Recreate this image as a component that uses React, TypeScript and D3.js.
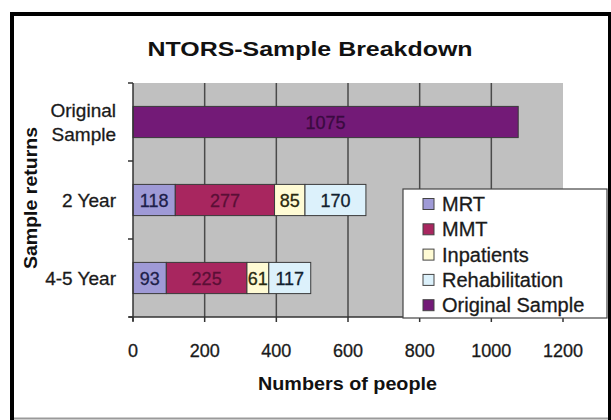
import React from "react";
import * as d3 from "d3";

const categories = ["Original Sample", "2 Year", "4-5 Year"];
const categoryLines = [["Original", "Sample"], ["2 Year"], ["4-5 Year"]];
const seriesNames = ["MRT", "MMT", "Inpatients", "Rehabilitation", "Original Sample"];
const mrtValues = [0, 118, 93];
const mmtValues = [0, 277, 225];
const inpatientValues = [0, 85, 61];
const rehabValues = [0, 170, 117];
const originalValues = [1075, 0, 0];
const xTicks = [0, 200, 400, 600, 800, 1000, 1200];
const seriesColors = ["#9f9ad6", "#a8265f", "#fffbd4", "#dcf1fb", "#731a77"];
const labelColors = ["#1e1f4a", "#5a0f36", "#2a2a10", "#10202e", "#3a0a40"];

const W = 611;
const H = 420;
const plot = { left: 133, right: 563, top: 83, bottom: 317 };

export default function App() {
  const rows = categories.map((c, i) => ({
    cat: c,
    MRT: mrtValues[i],
    MMT: mmtValues[i],
    Inpatients: inpatientValues[i],
    Rehabilitation: rehabValues[i],
    "Original Sample": originalValues[i],
  }));
  const stack = d3.stack<any>().keys(seriesNames);
  const layers = stack(rows);

  const x = d3.scaleLinear().domain([0, 1200]).range([plot.left, plot.right]);
  const y = d3
    .scaleBand()
    .domain(categories)
    .range([plot.top, plot.bottom])
    .paddingInner(0.6)
    .paddingOuter(0.3);
  const step = y.step();
  const font = "Liberation Sans, Arial, sans-serif";
  const textStroke = { stroke: "currentColor", strokeWidth: 0.3 } as any;

  return (
    <svg
      width={W}
      height={H}
      style={{ position: "absolute", left: 0, top: 0, background: "#fff" }}
      fontFamily={font}
    >
      {/* frame */}
      <line x1={12} y1={12} x2={12} y2={420} stroke="#000" strokeWidth={4} />
      <line x1={10} y1={14} x2={611} y2={14} stroke="#000" strokeWidth={4} />
      <line x1={609.5} y1={12} x2={609.5} y2={420} stroke="#000" strokeWidth={3} />
      <line x1={14} y1={418.5} x2={608} y2={418.5} stroke="#9a9a9a" strokeWidth={2} />

      {/* title */}
      <text
        x={310}
        y={56}
        textAnchor="middle"
        fontSize={21}
        fontWeight="bold"
        fill="#111"
        textLength={325}
        lengthAdjust="spacingAndGlyphs"
      >
        NTORS-Sample Breakdown
      </text>

      {/* plot background */}
      <rect
        x={plot.left}
        y={plot.top}
        width={plot.right - plot.left}
        height={plot.bottom - plot.top}
        fill="#c0c0c0"
      />
      {/* gridlines */}
      {xTicks
        .filter((t) => t > 0 && t < 1200)
        .map((t) => (
          <line
            key={t}
            x1={x(t)}
            x2={x(t)}
            y1={plot.top}
            y2={plot.bottom}
            stroke="#4a4a4a"
            strokeWidth={1.5}
          />
        ))}

      {/* bars */}
      {layers.map((layer, si) =>
        layer.map((d, ci) => {
          const v = d[1] - d[0];
          if (!v) return null;
          const x0 = x(d[0]);
          const x1 = x(d[1]);
          const by = y(categories[ci]) as number;
          const bh = y.bandwidth();
          return (
            <g key={`${si}-${ci}`}>
              <rect
                x={x0}
                y={by}
                width={x1 - x0}
                height={bh}
                fill={seriesColors[si]}
                stroke="#3a3a3a"
                strokeWidth={1}
              />
              <text
                x={(x0 + x1) / 2}
                y={by + bh / 2 + 6.5}
                textAnchor="middle"
                fontSize={18}
                fill={labelColors[si]}
                style={{ color: labelColors[si] }}
                {...textStroke}
              >
                {v}
              </text>
            </g>
          );
        })
      )}

      {/* axes */}
      <line x1={plot.left} x2={plot.left} y1={plot.top} y2={plot.bottom + 4} stroke="#333" strokeWidth={1.5} />
      <line x1={plot.left - 4} x2={plot.right} y1={plot.bottom} y2={plot.bottom} stroke="#333" strokeWidth={1.5} />
      {[0, 1, 2, 3].map((i) => (
        <line
          key={i}
          x1={plot.left - 5}
          x2={plot.left}
          y1={plot.top + i * step}
          y2={plot.top + i * step}
          stroke="#333"
          strokeWidth={1.5}
        />
      ))}
      {xTicks.map((t) => (
        <g key={t}>
          <line x1={x(t)} x2={x(t)} y1={plot.bottom} y2={plot.bottom + 5} stroke="#333" strokeWidth={1.5} />
          <text
            x={x(t)}
            y={357}
            textAnchor="middle"
            fontSize={18}
            fill="#1a1a1a"
            style={{ color: "#1a1a1a" }}
            {...textStroke}
          >
            {t}
          </text>
        </g>
      ))}

      {/* category labels */}
      {categories.map((c, i) => {
        const cy = (y(c) as number) + y.bandwidth() / 2;
        const lines = categoryLines[i];
        const lh = 24;
        return lines.map((ln, li) => (
          <text
            key={`${c}-${li}`}
            x={116}
            y={cy + 7 + (li - (lines.length - 1) / 2) * lh}
            textAnchor="end"
            fontSize={19}
            fill="#1a1a1a"
            style={{ color: "#1a1a1a" }}
            {...textStroke}
          >
            {ln}
          </text>
        ));
      })}

      {/* axis titles */}
      <text
        transform="translate(37,198) rotate(-90)"
        textAnchor="middle"
        fontSize={19}
        fontWeight="bold"
        fill="#111"
        textLength={142}
        lengthAdjust="spacingAndGlyphs"
      >
        Sample returns
      </text>
      <text
        x={347.5}
        y={390}
        textAnchor="middle"
        fontSize={19}
        fontWeight="bold"
        fill="#111"
        textLength={179}
        lengthAdjust="spacingAndGlyphs"
      >
        Numbers of people
      </text>

      {/* legend */}
      <rect x={403} y={189} width={204} height={129} fill="#fff" stroke="#444" strokeWidth={1.2} />
      {seriesNames.map((s, i) => (
        <g key={s}>
          <rect
            x={423}
            y={198.5 + i * 25.3}
            width={11}
            height={11}
            fill={seriesColors[i]}
            stroke="#444"
            strokeWidth={1}
          />
          <text
            x={442}
            y={211 + i * 25.3}
            fontSize={20}
            fill="#1a1a1a"
            style={{ color: "#1a1a1a" }}
            {...textStroke}
          >
            {s}
          </text>
        </g>
      ))}
    </svg>
  );
}
